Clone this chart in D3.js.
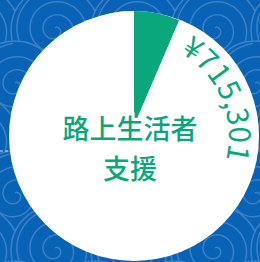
<!DOCTYPE html>
<html>
<head>
<meta charset="utf-8">
<script src="https://cdn.jsdelivr.net/npm/d3@7/dist/d3.min.js"></script>
<style>
html, body { margin: 0; padding: 0; overflow: hidden; background: #0862b5; }
</style>
</head>
<body>
<script>
// data
var categories = ["路上生活者支援", "その他"];
var values = [715301, 10390000];
var colors = ["#0aa77c", "#ffffff"];
var titleLines = ["路上生活者", "支援"];

var width = 260;
var height = 262;

const svg = d3.select("body")
  .append("svg")
  .attr("width", width)
  .attr("height", height);

// background with swirl pattern
svg.append("rect")
  .attr("width", width)
  .attr("height", height)
  .attr("fill", "#0862b5");

var swirl = svg.append("g");
var spiralLine = d3.lineRadial().curve(d3.curveBasis);
for (var row = -1; row < 6; row++) {
  for (var col = -1; col < 5; col++) {
    var sx = col * 80 + (row % 2 ? 40 : 0) + 55;
    var sy = row * 55 + 30;
    var g = swirl.append("g").attr("transform", "translate(" + sx + "," + sy + ")");
    g.append("circle").attr("r", 44).attr("fill", "#0862b5")
      .attr("stroke", "#3d80c3").attr("stroke-width", 1.5);
    var pts = d3.range(0, 6 * Math.PI, 0.2).map(t => [t, 2 + t * 2.1]);
    g.append("path").attr("d", spiralLine(pts))
      .attr("fill", "none").attr("stroke", "#3d80c3").attr("stroke-width", 1.5);
  }
}

// leader line stub at left edge
svg.append("line")
  .attr("x1", -10).attr("x2", 9)
  .attr("y1", 151).attr("y2", 151)
  .attr("stroke", "#d8e6f3")
  .attr("stroke-width", 1.2)
  .attr("stroke-dasharray", "3,2");

// white plate
svg.append("circle")
  .attr("cx", 134).attr("cy", 136)
  .attr("r", 125)
  .attr("fill", "#ffffff");

var pie = d3.pie().sort(null).value(d => d);
var arcs = pie(values);

var arc = d3.arc().innerRadius(0).outerRadius(115);

const chart = svg.append("g")
  .attr("transform", "translate(134,126)");

chart.selectAll("path.slice")
  .data(arcs)
  .enter()
  .append("path")
  .attr("class", "slice")
  .attr("d", arc)
  .attr("fill", (d, i) => colors[i]);

// curved value label
var a0 = 29 * Math.PI / 180;
var p = d3.path();
p.arc(0, 0, 95, a0 - Math.PI / 2, a0 - Math.PI / 2 + 2.2, false);

const lab = svg.append("g")
  .attr("transform", "translate(134,136)");

lab.append("path")
  .attr("id", "labelArc")
  .attr("d", p.toString())
  .attr("fill", "none");

lab.append("text")
  .attr("font-family", "'Noto Sans CJK JP', 'Noto Sans', sans-serif")
  .attr("font-size", 30)
  .attr("fill", colors[0])
  .append("textPath")
  .attr("href", "#labelArc")
  .text("¥" + d3.format(",")(values[0]));

// centre title
svg.append("g")
  .selectAll("text")
  .data(titleLines)
  .enter()
  .append("text")
  .attr("x", 130)
  .attr("y", (d, i) => 127 + i * 40)
  .attr("text-anchor", "middle")
  .attr("dominant-baseline", "central")
  .attr("font-family", "'Noto Sans CJK JP', sans-serif")
  .attr("font-size", 27)
  .attr("font-weight", 500)
  .attr("fill", colors[0])
  .attr("stroke", "#ffffff")
  .attr("stroke-width", 6)
  .attr("paint-order", "stroke")
  .text(d => d);
</script>
</body>
</html>
